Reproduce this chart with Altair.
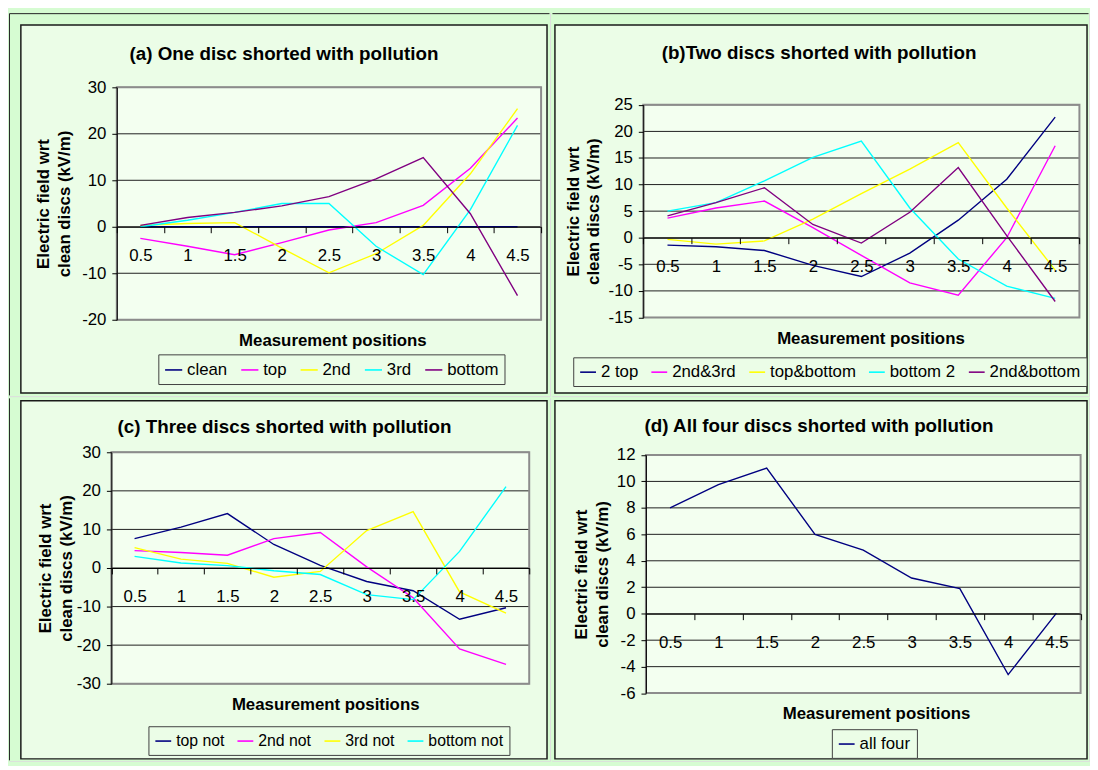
import altair as alt
import pandas as pd

FONT = "Liberation Sans, Arial, sans-serif"
OUTER = "#d6fcd2"
PANEL = "#ebfde7"
PLOT = "#f3fff0"

positions = ["0.5", "1", "1.5", "2", "2.5", "3", "3.5", "4", "4.5"]

# ---- Panel (a) ----
a_title = "(a) One disc shorted with pollution"
a_names = ["clean", "top", "2nd", "3rd", "bottom"]
a_clean = [0, 0, 0, 0, 0, 0, 0, 0, 0]
a_top = [-2.5, -4.2, -6.0, -3.4, -0.7, 0.9, 4.6, 12.6, 23.4]
a_2nd = [0.3, 0.7, 0.9, -4.6, -9.9, -5.8, 0.3, 11.4, 25.4]
a_3rd = [0.0, 1.4, 3.1, 5.0, 5.0, -4.2, -10.3, 3.7, 21.8]
a_bottom = [0.3, 2.0, 3.1, 4.5, 6.5, 10.3, 14.9, 2.8, -14.8]
a_ticks = [-20, -10, 0, 10, 20, 30]

# ---- Panel (b) ----
b_title = "(b)Two discs shorted with pollution"
b_names = ["2 top", "2nd&3rd", "top&bottom", "bottom 2", "2nd&bottom"]
b_2top = [-1.4, -1.7, -2.4, -5.2, -7.3, -2.9, 3.3, 11.0, 22.7]
b_2nd3rd = [3.7, 5.6, 6.9, 1.9, -3.3, -8.5, -10.8, 0.0, 17.3]
b_topbottom = [-0.3, -1.2, -0.6, 3.5, 8.3, 12.9, 17.9, 5.6, -6.1]
b_bottom2 = [5.0, 6.6, 10.7, 15.1, 18.2, 5.6, -4.0, -9.1, -11.4]
b_2ndbottom = [4.1, 6.6, 9.4, 2.5, -1.0, 4.8, 13.2, 0.4, -12.0]
b_ticks = [-15, -10, -5, 0, 5, 10, 15, 20, 25]

# ---- Panel (c) ----
c_title = "(c) Three discs shorted with pollution"
c_names = ["top not", "2nd not", "3rd not", "bottom not"]
c_topnot = [7.6, 10.6, 14.1, 6.1, 0.7, -3.5, -5.9, -13.3, -10.3]
c_2ndnot = [4.5, 4.0, 3.3, 7.6, 9.2, 0.3, -7.7, -21.0, -25.0]
c_3rdnot = [5.3, 2.3, 1.2, -2.4, -0.9, 9.7, 14.6, -6.2, -11.7]
c_bottomnot = [3.0, 1.3, 0.6, -0.7, -1.7, -6.9, -8.2, 4.3, 21.1]
c_ticks = [-30, -20, -10, 0, 10, 20, 30]

# ---- Panel (d) ----
d_title = "(d) All four discs shorted with pollution"
d_names = ["all four"]
d_allfour = [8.0, 9.75, 11.0, 6.0, 4.8, 2.7, 1.9, -4.6, 0.05]
d_ticks = [-6, -4, -2, 0, 2, 4, 6, 8, 10, 12]

NAVY, MAGENTA, YELLOW, CYAN, PURPLE = "#000080", "#ff00ff", "#ffff00", "#00ffff", "#800080"

# layout geometry in page pixels
GEO = {
    "a": dict(vx=117, vy=83, W=429, H=235, cell=(8, 8, 555, 395), frame=(20, 20, 552, 392),
              title=(286, 49.3), legend=(159, 353), xtitle=(335, 339), ytitle_x=43,
              outer_left=True, outer_top=True,
              leg=dict(sym=300, colpad=10, pad=6, font=17)),
    "b": dict(vx=647.3, vy=100.7, W=441, H=215, cell=(555, 8, 1098, 395), frame=(558, 20, 1096, 392),
              title=(825, 48), legend=(576.5, 356), xtitle=(877, 336.7), ytitle_x=576.5,
              outer_left=False, outer_top=True,
              leg=dict(sym=256, colpad=9, pad=6, font=17)),
    "c": dict(vx=111.5, vy=450, W=422.5, H=234, cell=(8, 395, 555, 762), frame=(20, 398, 552, 760),
              title=(286.6, 425), legend=(149, 727), xtitle=(327.7, 705), ytitle_x=45,
              outer_left=True, outer_top=False,
              leg=dict(sym=256, colpad=9, pad=6, font=16)),
    "d": dict(vx=650, vy=452.7, W=439.5, H=240.8, cell=(555, 395, 1098, 762), frame=(558, 398, 1096, 760),
              title=(825, 424), legend=(838, 730), xtitle=(882.6, 714.5), ytitle_x=585,
              outer_left=False, outer_top=False,
              leg=dict(sym=256, colpad=9, pad=6, font=17)),
}


def long_df(names, series):
    rows = []
    for n, vals in zip(names, series):
        for i, (p, v) in enumerate(zip(positions, vals)):
            rows.append({"pos": p, "series": n, "value": v, "idx": i})
    return pd.DataFrame(rows)


def one():
    return alt.Data(values=[{"k": 1}])


def vrect(x1, y1, x2, y2, **mk):
    return alt.Chart(one()).mark_rect(**mk).encode(
        x=alt.value(x1), x2=alt.value(x2), y=alt.value(y1), y2=alt.value(y2))


def panel(key, title, names, series, colors, ticks):
    g = GEO[key]
    lg = g["leg"]
    cx1, cy1, cx2, cy2 = g["cell"]
    cw, ch = cx2 - cx1, cy2 - cy1
    rx = lambda px: px - cx1
    ry = lambda py: py - cy1
    px0, py0, W, H = rx(g["vx"]), ry(g["vy"]), g["W"], g["H"]
    lo, hi = ticks[0], ticks[-1]
    zero_y = py0 + H * hi / (hi - lo)

    yscale = alt.Scale(domain=[lo, hi], range=[py0 + H, py0], nice=False, zero=False)
    yaxis = alt.Axis(
        orient="left", offset=-px0, values=ticks, domainColor="black", domainWidth=1,
        tickColor="black", tickSize=5, labelPadding=6, labelFontSize=17,
        labelColor="black", labelFont=FONT, labelExpr="'' + datum.value",
        labelOverlap=False, grid=False,
        title=["Electric field wrt", "clean discs (kV/m)"], titleFont=FONT,
        titleFontSize=17, titleFontWeight="bold", titleColor="black",
        titleAngle=270, titleX=g["ytitle_x"] - g["vx"], titleY=py0 + H / 2,
        titleAlign="center", titleBaseline="middle", titleLineHeight=21, zindex=1)
    yenc = alt.Y("value:Q", scale=yscale, axis=yaxis)

    xscale = alt.Scale(type="band", domain=positions, range=[px0, px0 + W],
                       paddingInner=0, paddingOuter=0)
    xaxis = alt.Axis(
        orient="bottom", offset=zero_y - ch, domainColor="black", domainWidth=1,
        tickColor="black", tickSize=6, tickBand="extent", labelPadding=23,
        labelBaseline="middle", labelAngle=0, labelFontSize=17, labelColor="black",
        labelFont=FONT, grid=False, title="Measurement positions", titleFont=FONT,
        titleFontSize=17, titleFontWeight="bold", titleColor="black",
        titleX=rx(g["xtitle"][0]), titleY=ry(g["xtitle"][1]) - zero_y,
        titleAlign="center", titleBaseline="middle", zindex=1)

    fx1, fy1, fx2, fy2 = g["frame"]
    layers = [
        vrect(0, 0, cw, ch, fill=OUTER, strokeWidth=0),
        vrect(rx(fx1), ry(fy1), rx(fx2), ry(fy2), fill=PANEL, stroke="#1a1a1a", strokeWidth=1.5),
    ]
    if g["outer_left"]:
        layers.append(alt.Chart(one()).mark_rule(color="#222222", strokeWidth=1).encode(
            x=alt.value(0.5), y=alt.value(0.5), y2=alt.value(ch - 0.5)))
    if g["outer_top"]:
        layers.append(alt.Chart(one()).mark_rule(color="#222222", strokeWidth=1).encode(
            y=alt.value(0.5), x=alt.value(0.5), x2=alt.value(cw - 0.5)))
    layers.append(vrect(px0, py0, px0 + W, py0 + H, fill=PLOT, strokeWidth=0))
    layers.append(alt.Chart(pd.DataFrame({"value": ticks})).mark_rule(
        color="#1e1e1e", strokeWidth=1).encode(y=yenc, x=alt.value(px0), x2=alt.value(px0 + W)))
    layers.append(vrect(px0, py0, px0 + W, py0 + H, filled=False, stroke="#8c8c8c", strokeWidth=2))
    layers.append(alt.Chart(one()).mark_text(
        text=title, font=FONT, fontSize=19, fontWeight="bold", color="black",
        align="center", baseline="middle").encode(
        x=alt.value(rx(g["title"][0])), y=alt.value(ry(g["title"][1]))))

    df = long_df(names, series)
    lines = alt.Chart(df).mark_line(strokeWidth=1.4).encode(
        x=alt.X("pos:N", bandPosition=0.5, scale=xscale, axis=xaxis),
        y=yenc,
        color=alt.Color("series:N", scale=alt.Scale(domain=names, range=colors),
                        legend=alt.Legend(
                            orient="none", legendX=rx(g["legend"][0]), legendY=ry(g["legend"][1]),
                            direction="horizontal", title=None, symbolType="stroke",
                            symbolSize=lg["sym"], symbolStrokeWidth=1.6,
                            labelFontSize=lg["font"], labelFont=FONT, labelColor="black",
                            labelOffset=4, columnPadding=lg["colpad"], padding=lg["pad"],
                            strokeColor="#404040", fillColor=PANEL, labelLimit=300, zindex=1)),
        order=alt.Order("idx:Q"),
    )
    layers.append(lines)
    return alt.layer(*layers).properties(width=cw, height=ch)


pa = panel("a", a_title, a_names, [a_clean, a_top, a_2nd, a_3rd, a_bottom],
           [NAVY, MAGENTA, YELLOW, CYAN, PURPLE], a_ticks)
pb = panel("b", b_title, b_names, [b_2top, b_2nd3rd, b_topbottom, b_bottom2, b_2ndbottom],
           [NAVY, MAGENTA, YELLOW, CYAN, PURPLE], b_ticks)
pc = panel("c", c_title, c_names, [c_topnot, c_2ndnot, c_3rdnot, c_bottomnot],
           [NAVY, MAGENTA, YELLOW, CYAN], c_ticks)
pd_ = panel("d", d_title, d_names, [d_allfour], [NAVY], d_ticks)

chart = alt.concat(pa, pb, pc, pd_, columns=2, spacing=0, align="each", bounds="full").resolve_scale(
    color="independent", x="independent", y="independent"
).resolve_legend(color="independent").properties(
    background=OUTER, padding=0
).configure_view(strokeWidth=0).configure(font=FONT)

chart.save("out.html", embed_options={"renderer": "svg", "actions": False})
